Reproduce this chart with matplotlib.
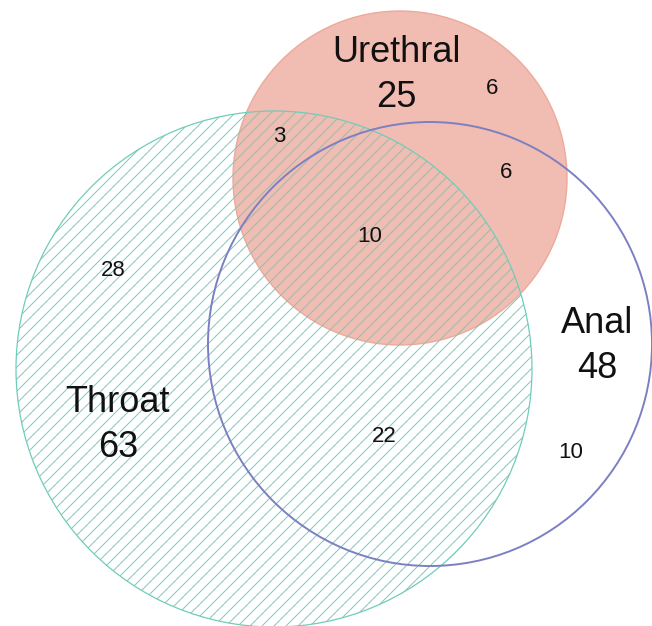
import matplotlib
matplotlib.use("Agg")
import matplotlib.pyplot as plt
from matplotlib.patches import Circle

# ---- data ----
set_names = ["Throat", "Urethral", "Anal"]
set_totals = [63, 25, 48]
region_keys = ["T only", "U only", "A only", "T&U", "U&A", "T&U&A", "T&A"]
region_counts = [28, 6, 10, 3, 6, 10, 22]

# ---- layout (pixel coordinates, y downward) ----
W, H = 652, 626
DPI = 108          # hatch tile = DPI px, '///' -> 18 lines -> 6 px spacing
S = 100 / DPI      # scale so sizes match a 100-dpi design
circle_centers = {"Throat": (274, 369), "Urethral": (400, 178), "Anal": (430, 344)}
circle_radii = {"Throat": 258, "Urethral": 167, "Anal": 222}
set_label_pos = {"Throat": (118, 425), "Urethral": (396, 75), "Anal": (597, 346)}
region_pos = {"T only": (113, 270), "U only": (492, 88), "A only": (571, 452),
              "T&U": (279, 137), "U&A": (506, 172), "T&U&A": (370, 237),
              "T&A": (384, 437)}

plt.rcParams["font.family"] = ["Liberation Sans", "DejaVu Sans"]
plt.rcParams["hatch.linewidth"] = 0.68 * S

fig = plt.figure(figsize=(W / DPI, H / DPI), dpi=DPI)
ax = fig.add_axes([0, 0, 1, 1])
ax.set_xlim(0, W)
ax.set_ylim(H, 0)
ax.set_aspect("equal")
ax.axis("off")

# Urethral filled circle
ax.add_patch(Circle(circle_centers["Urethral"], circle_radii["Urethral"],
                    facecolor="#f1bdb2", edgecolor="#eda99a", linewidth=1.0 * S, zorder=1))
# Throat hatched circle
ax.add_patch(Circle(circle_centers["Throat"], circle_radii["Throat"],
                    facecolor="none", edgecolor="#70ccbb", hatch="///",
                    linewidth=0.9 * S, zorder=2))
# Anal outline circle
ax.add_patch(Circle(circle_centers["Anal"], circle_radii["Anal"],
                    facecolor="none", edgecolor="#7c80c2", linewidth=1.4 * S, zorder=3))

for name, total in zip(set_names, set_totals):
    x, y = set_label_pos[name]
    ax.text(x, y, f"{name}\n{total}", ha="center", va="center", fontsize=26 * S,
            linespacing=1.4, color="#111111", zorder=5)

for key, cnt in zip(region_keys, region_counts):
    x, y = region_pos[key]
    ax.text(x, y, str(cnt), ha="center", va="center", fontsize=16 * S,
            color="#111111", zorder=5)

fig.savefig("out.png", dpi=DPI)
